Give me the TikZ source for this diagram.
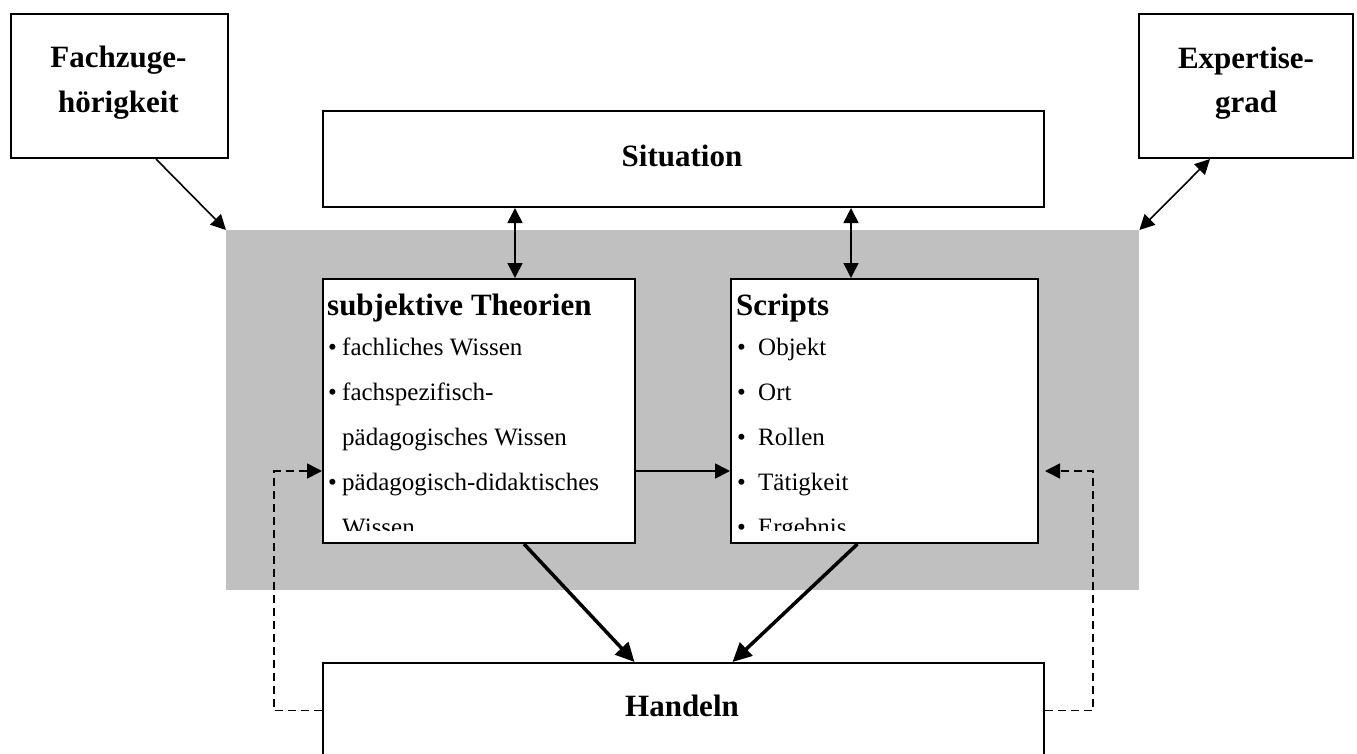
\documentclass[tikz,border=0pt]{standalone}
\usepackage{fontspec}
\setmainfont{Liberation Serif}
\usetikzlibrary{arrows.meta}
\definecolor{corefill}{HTML}{C0C0C0}
\tikzset{
  box/.style={draw, line width=2pt, fill=white, rectangle, inner sep=0pt, anchor=north west},
  ttl/.style={font=\fontsize{31}{37}\selectfont\bfseries, inner sep=0pt},
  itm/.style={font=\fontsize{25}{30}\selectfont, inner sep=0pt, anchor=base west},
  thinarr/.style={line width=1.6pt, -{Triangle[length=15pt,width=15pt]}},
  dblarr/.style={line width=1.6pt, {Triangle[length=15pt,width=15pt]}-{Triangle[length=15pt,width=15pt]}},
  thickarr/.style={line width=3.5pt, -{Triangle[length=19pt,width=18pt]}},
  dsharr/.style={line width=1.6pt, dash pattern=on 8pt off 5pt, -{Triangle[length=15pt,width=15pt]}}
}
\begin{document}
\begin{tikzpicture}[x=1pt,y=-1pt]
\useasboundingbox (0,0) rectangle (1357,753);
% grey core area
\node[fill=corefill, minimum width=913pt, minimum height=360pt, inner sep=0pt, anchor=north west] (core) at (226,230) {};
% boxes
\node[box, minimum width=217pt, minimum height=144pt] (fach) at (10,13) {};
\node[box, minimum width=214pt, minimum height=144pt] (exp) at (1138,13) {};
\node[box, minimum width=721pt, minimum height=96pt] (sit) at (322,110) {};
\node[box, minimum width=312pt, minimum height=264pt] (subj) at (322,278) {};
\node[box, minimum width=307pt, minimum height=264pt] (scr) at (730,278) {};
\node[box, minimum width=721pt, minimum height=95pt] (hand) at (322,662) {};
% top texts
\node[ttl, anchor=base] (fachA) at (118.5,67) {Fachzuge-};
\node[ttl, anchor=base] (fachB) at (118.5,112) {hörigkeit};
\node[ttl, anchor=base] (expA) at (1246,68) {Expertise-};
\node[ttl, anchor=base] (expB) at (1246,112) {grad};
\node[ttl, anchor=base] (sitT) at (682,166) {Situation};
\node[ttl, anchor=base] (handT) at (682,716) {Handeln};
% list texts, clipped at the lower edge of the boxes
\begin{scope}
\clip (322,278) rectangle (1037,530);
\node[ttl, anchor=base west] (subjT) at (327,315) {subjektive Theorien};
\node[itm] (sb1) at (328,355) {•};
\node[itm] (st1) at (342,355) {fachliches Wissen};
\node[itm] (sb2) at (328,400) {•};
\node[itm] (st2) at (342,400) {fachspezifisch-};
\node[itm] (st3) at (342,445) {pädagogisches Wissen};
\node[itm] (sb4) at (328,490) {•};
\node[itm] (st4) at (342,490) {pädagogisch-didaktisches};
\node[itm] (st5) at (342,535) {Wissen};
\node[ttl, anchor=base west] (scrT) at (736,315) {Scripts};
\node[itm] (cb1) at (737,355) {•};
\node[itm] (ct1) at (758,355) {Objekt};
\node[itm] (cb2) at (737,400) {•};
\node[itm] (ct2) at (758,400) {Ort};
\node[itm] (cb3) at (737,445) {•};
\node[itm] (ct3) at (758,445) {Rollen};
\node[itm] (cb4) at (737,490) {•};
\node[itm] (ct4) at (758,490) {Tätigkeit};
\node[itm] (cb5) at (737,535) {•};
\node[itm] (ct5) at (758,535) {Ergebnis};
\end{scope}
% helper coordinates
\coordinate (se470) at ([yshift=-60pt]subj.east);
\coordinate (sw470) at ([yshift=-60pt]subj.west);
\coordinate (ce470) at ([yshift=-60pt,xshift=6pt]scr.east);
\coordinate (subjTop) at ([xshift=36pt]subj.north);
\coordinate (scrTop) at ([xshift=-33.5pt]scr.north);
% connectors
\draw[thinarr] ([xshift=36.5pt]fach.south) -- (core.north west);
\draw[dblarr] ([xshift=-36pt]exp.south) -- (core.north east);
\draw[dblarr] (sit.south -| subjTop) -- (subjTop);
\draw[dblarr] (sit.south -| scrTop) -- (scrTop);
\draw[thinarr] (se470) -- (se470 -| scr.west);
\draw[thickarr] ([xshift=45pt]subj.south) -- ([xshift=-49pt]hand.north);
\draw[thickarr] ([xshift=-27pt]scr.south) -- ([xshift=49pt]hand.north);
\draw[dsharr] (hand.west) -- ++(-48,0) |- (sw470);
\draw[dsharr] (hand.east) -- ++(48,0) |- (ce470);
\end{tikzpicture}
\end{document}
